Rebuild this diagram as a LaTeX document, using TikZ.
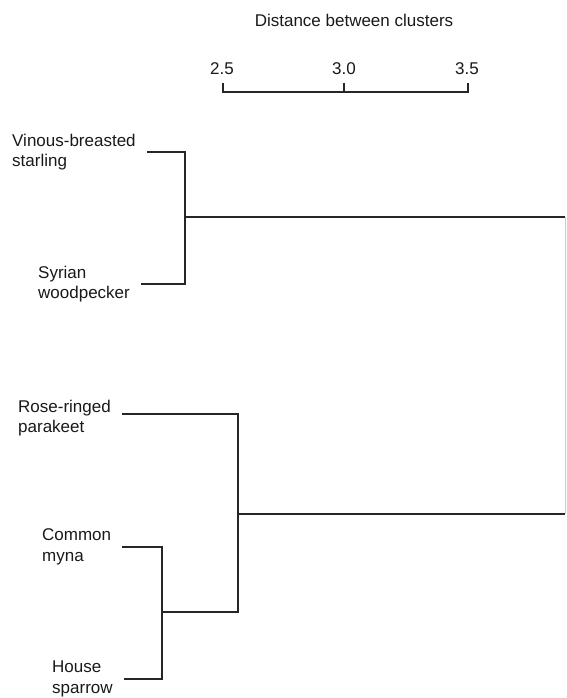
\documentclass[tikz,border=0pt]{standalone}
\usepackage{fontspec}
\setmainfont{Liberation Sans}
\usepackage{tikz}
\usetikzlibrary{positioning}

\begin{document}
\begin{tikzpicture}[x=1pt, y=-1pt,
  leaf/.style={anchor=west, align=left, inner sep=0pt, text=black!90,
    font=\fontsize{17}{20.5}\selectfont},
  branch/.style={line width=2pt, black!85},
  axisline/.style={line width=1.6pt, black!85}]
\useasboundingbox (0,0) rectangle (566,698);

% Scale
\node[font=\fontsize{17}{20.5}\selectfont, text=black!90] (title) at (354,20) {Distance between clusters};
\node[font=\fontsize{17}{20.5}\selectfont, text=black!90] (l25) at (222,69) {2.5};
\node[font=\fontsize{17}{20.5}\selectfont, text=black!90] (l30) at (344,69) {3.0};
\node[font=\fontsize{17}{20.5}\selectfont, text=black!90] (l35) at (467,69) {3.5};
\coordinate (t25) at (223,83);
\coordinate (t30) at (344,83);
\coordinate (t35) at (468,83);
\coordinate (b25) at (223,92);
\coordinate (b30) at (344,92);
\coordinate (b35) at (468,92);
\draw[axisline] (t25) -- (b25) -- (b35) -- (t35);
\draw[axisline] (t30) -- (b30);

% Leaves
\node[leaf] (vbs) at (12,152) {Vinous-breasted\\starling};
\node[leaf] (syw) at (38,284) {Syrian\\woodpecker};
\node[leaf] (rrp) at (18,418) {Rose-ringed\\parakeet};
\node[leaf] (cmy) at (42,547) {Common\\myna};
\node[leaf] (hsp) at (52,679) {House\\sparrow};

% Joins
\coordinate (p1) at (238,414);
\coordinate (j1) at (185,217);
\coordinate (j2) at (162,612);
\coordinate (j3) at (238,514);
\coordinate (r1) at (565,217);
\coordinate (r2) at (565,514);

% Cluster 1
\draw[branch] ([xshift=11pt]vbs.east) -| (j1);
\draw[branch] ([xshift=11pt]syw.east) -| (j1);
\draw[branch] (j1) -- (r1);

% Cluster 2
\draw[branch] ([xshift=11pt]cmy.east) -| (j2);
\draw[branch] ([xshift=11pt]hsp.east) -| (j2);
\draw[branch] ([xshift=11pt]rrp.east |- p1) -- (p1) -- (j3);
\draw[branch] (j2) -| (j3);
\draw[branch] (j3) -- (r2);

% Root
\draw[line width=1pt, black!20] (r1) -- (r2);
\end{tikzpicture}
\end{document}
